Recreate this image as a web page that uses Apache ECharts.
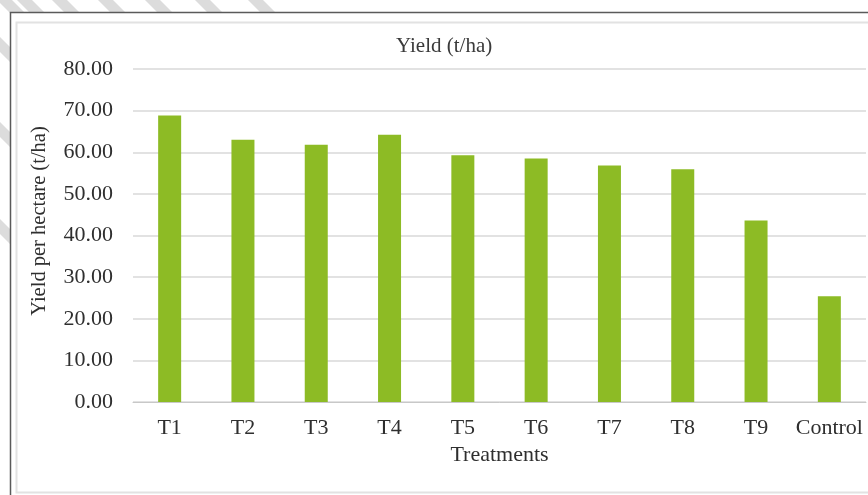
<!DOCTYPE html>
<html>
<head>
<meta charset="utf-8">
<script src="https://cdn.jsdelivr.net/npm/echarts@6/dist/echarts.min.js"></script>
<style>
  html, body { margin: 0; padding: 0; background: #ffffff; }
  #chart { width: 868px; height: 495px; }
</style>
</head>
<body>
<div id="chart"></div>
<script>
// Yield per treatment (t/ha)
const categories = ['T1', 'T2', 'T3', 'T4', 'T5', 'T6', 'T7', 'T8', 'T9', 'Control'];
const yieldValues = [68.8, 63.0, 61.8, 64.2, 59.3, 58.5, 56.8, 55.9, 43.6, 25.4];
const yTicks = [0, 10, 20, 30, 40, 50, 60, 70, 80];

const chartTitle = 'Yield (t/ha)';
const xAxisTitle = 'Treatments';
const yAxisTitle = 'Yield per hectare (t/ha)';

const serif = '"Liberation Serif", "DejaVu Serif", serif';
const textColor = '#2f2f2f';

// Diagonal background stripes behind the framed panel (offset where each stripe meets y = 0)
const stripeOffsets = [-234, -137, -52, -3, 17, 52, 98, 145, 195, 248];
const stripes = stripeOffsets.map(c => ({
  type: 'polygon',
  z: -100,
  silent: true,
  shape: { points: [[c, 0], [c + 15, 0], [c + 15 + 400, 400], [c + 400, 400]] },
  style: { fill: '#dcdcdc' }
}));

const chart = echarts.init(document.getElementById('chart'), null, { renderer: 'canvas' });

chart.setOption({
  backgroundColor: '#ffffff',
  animation: false,
  title: {
    text: chartTitle,
    left: 396,
    top: 36,
    padding: 0,
    textStyle: { fontFamily: serif, fontSize: 21, fontWeight: 'normal', color: '#3a3a3a' }
  },
  graphic: [
    ...stripes,
    {
      type: 'rect', z: -90, silent: true,
      shape: { x: 10.5, y: 12.5, width: 900, height: 520 },
      style: { fill: '#ffffff', stroke: '#5a5a5a', lineWidth: 1.5 }
    },
    {
      type: 'rect', z: -80, silent: true,
      shape: { x: 16.5, y: 22.5, width: 900, height: 470 },
      style: { fill: '#ffffff', stroke: '#e2e2e2', lineWidth: 2 }
    },
    {
      type: 'text', z: 10, silent: true,
      x: 40, y: 221, rotation: Math.PI / 2,
      style: {
        text: yAxisTitle, fontFamily: serif, fontSize: 20.5, fill: textColor,
        textAlign: 'center', textVerticalAlign: 'middle'
      }
    }
  ],
  grid: { left: 133, right: 2, top: 69, bottom: 93, containLabel: false },
  xAxis: {
    type: 'category',
    data: categories,
    name: xAxisTitle,
    nameLocation: 'middle',
    nameGap: 42,
    nameTextStyle: { fontFamily: serif, fontSize: 22, color: textColor, verticalAlign: 'top' },
    axisLine: { show: true, lineStyle: { color: '#c8c8c8', width: 1 } },
    axisTick: { show: false },
    axisLabel: { interval: 0, fontFamily: serif, fontSize: 22, color: textColor, margin: 15 }
  },
  yAxis: {
    type: 'value',
    min: yTicks[0],
    max: yTicks[yTicks.length - 1],
    interval: yTicks[1] - yTicks[0],
    axisLine: { show: false },
    axisTick: { show: false },
    axisLabel: {
      fontFamily: serif, fontSize: 22, color: textColor, margin: 20,
      formatter: v => v.toFixed(2)
    },
    splitLine: { show: true, lineStyle: { color: '#d9d9d9', width: 1.5 } }
  },
  series: [{
    type: 'bar',
    data: yieldValues,
    barWidth: 23,
    itemStyle: { color: '#8dbb25' }
  }]
});
</script>
</body>
</html>
